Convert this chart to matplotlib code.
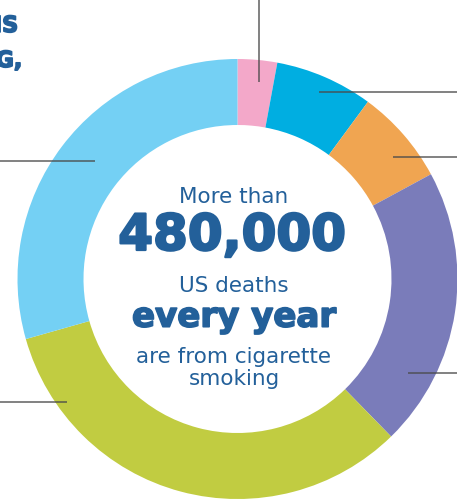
import matplotlib
matplotlib.use("Agg")
import matplotlib.pyplot as plt
import matplotlib.patheffects as pe

# Shares of the ring (percent), clockwise from 12 o'clock
categories = ["Segment A", "Segment B", "Segment C", "Segment D", "Segment E", "Segment F"]
shares = [2.9, 7.2, 7.0, 20.6, 32.9, 29.4]
colors = ["#F3A8C9", "#00AEE1", "#F0A551", "#7A7CBA", "#C1CC41", "#74D0F4"]

headline = ["More than", "480,000", "US deaths", "every year", "are from cigarette", "smoking"]
side_text = ["THIS", "SMOKING,"]

W, H = 457, 501
fig = plt.figure(figsize=(W / 100, H / 100), dpi=100)
ax = fig.add_axes([0, 0, 1, 1])

cx, cy = 237.5, H - 279
R, ring = 220, 66
ax.pie(shares, colors=colors, startangle=90, counterclock=False,
       center=(cx, cy), radius=R,
       wedgeprops=dict(width=ring, linewidth=0))
ax.set_xlim(0, W)
ax.set_ylim(0, H)
ax.set_aspect("equal", adjustable="box")
ax.axis("off")

def py(y):
    return H - y

# leader lines
lc = dict(color="#4a4a4a", alpha=0.75, lw=1.3, solid_capstyle="butt")
ax.plot([259, 259], [py(0), py(82)], **lc)
ax.plot([319, W], [py(92.3), py(92.3)], **lc)
ax.plot([393, W], [py(156.7), py(156.7)], **lc)
ax.plot([408, W], [py(373.3), py(373.3)], **lc)
ax.plot([0, 95], [py(160.7), py(160.7)], **lc)
ax.plot([0, 67], [py(402.3), py(402.3)], **lc)

tc = "#23609A"
heavy = [pe.withStroke(linewidth=1.6, foreground=tc)]
heavy2 = [pe.withStroke(linewidth=1.2, foreground=tc)]
tx = 234
ax.text(tx, py(202.5), headline[0], ha="center", va="baseline", fontsize=15.5, color=tc, family="DejaVu Sans")
ax.text(tx - 2, py(250), headline[1], ha="center", va="baseline", fontsize=36, color=tc, family="DejaVu Sans",
        fontweight="bold", path_effects=heavy)
ax.text(tx, py(291.7), headline[2], ha="center", va="baseline", fontsize=15.5, color=tc, family="DejaVu Sans")
ax.text(tx, py(326.7), headline[3], ha="center", va="baseline", fontsize=24.5, color=tc, family="DejaVu Sans",
        fontweight="bold", path_effects=heavy2)
ax.text(tx, py(363.3), headline[4], ha="center", va="baseline", fontsize=15.5, color=tc, family="DejaVu Sans")
ax.text(tx, py(385), headline[5], ha="center", va="baseline", fontsize=15.5, color=tc, family="DejaVu Sans")

ax.text(18, py(32), side_text[0], ha="right", va="baseline", fontsize=16, color=tc, family="DejaVu Sans",
        fontweight="bold", path_effects=heavy2)
ax.text(22, py(67), side_text[1], ha="right", va="baseline", fontsize=16, color=tc, family="DejaVu Sans",
        fontweight="bold", path_effects=heavy2)

fig.savefig("out.png", dpi=100)
